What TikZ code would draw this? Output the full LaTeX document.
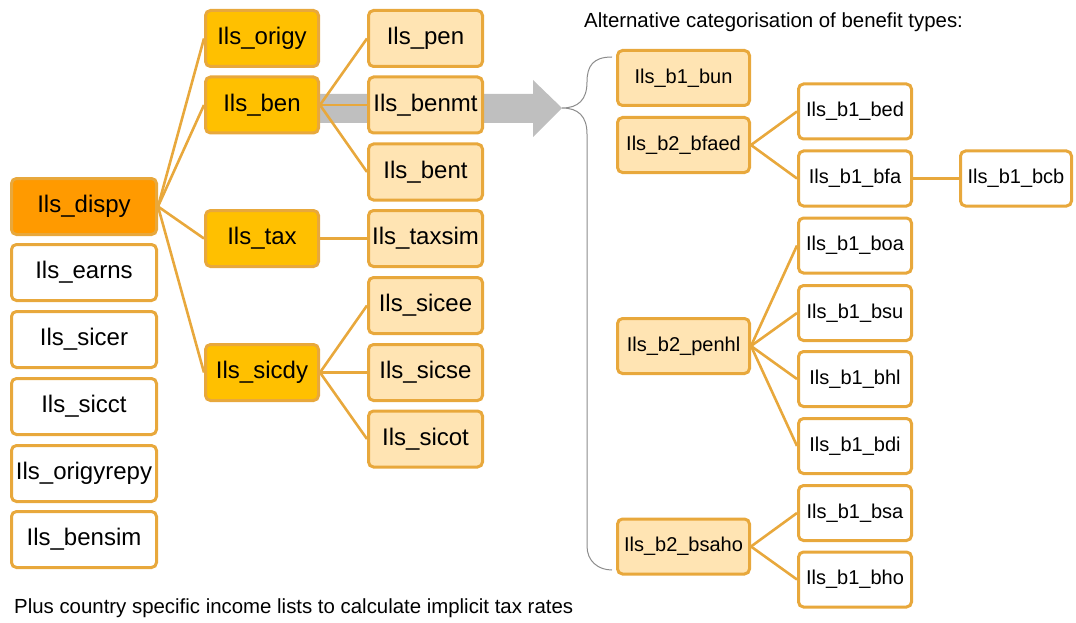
\documentclass[tikz,border=0pt]{standalone}
\usepackage{fontspec}
\setmainfont{Liberation Sans}
\definecolor{bord}{HTML}{E8A83C}
\definecolor{darkor}{HTML}{FF9A00}
\definecolor{gold}{HTML}{FFC000}
\definecolor{light}{HTML}{FFE4B3}
\definecolor{arrgray}{HTML}{BFBFBF}
\definecolor{bracegray}{HTML}{8C8C8C}
\tikzset{
  box/.style={draw=bord, line width=3pt, rounded corners=5pt, inner sep=0pt, align=center},
  lbox/.style={box, minimum width=145pt, minimum height=56pt, font=\fontsize{24}{28}\selectfont},
  mbox/.style={box, minimum width=113pt, minimum height=56pt, font=\fontsize{24}{28}\selectfont},
  tbox/.style={box, minimum width=114pt, minimum height=56pt, font=\fontsize{24}{28}\selectfont, fill=light},
  btwo/.style={box, minimum width=132pt, minimum height=55pt, font=\fontsize{20}{24}\selectfont, fill=light},
  bone/.style={box, minimum width=113pt, minimum height=55pt, font=\fontsize{20}{24}\selectfont, fill=white},
  conn/.style={draw=bord, line width=2.6pt},
  note/.style={font=\fontsize{20.4}{24}\selectfont, inner sep=0pt, anchor=west}
}
\begin{document}
\begin{tikzpicture}[x=1pt,y=-1pt]
\useasboundingbox (0,0) rectangle (1076,623);
% big gray arrow
\fill[arrgray] (300,94) -- (533,94) -- (533,80) -- (562,108) -- (533,137) -- (533,123) -- (300,123) -- cycle;
% brace
\draw[bracegray, line width=1pt] (612,57) .. controls (593,57) and (587,66) .. (587,82)
  .. controls (587,100) and (578,108) .. (562,108)
  .. controls (578,108) and (587,116) .. (587,134) -- (587,546)
  .. controls (587,561) and (598,570) .. (612,570);
% left column
\node[lbox, fill=darkor] (dispy) at (84,206.5) {Ils\_dispy};
\node[lbox, fill=white] (earns) at (84,272.5) {Ils\_earns};
\node[lbox, fill=white] (sicer) at (84,339.5) {Ils\_sicer};
\node[lbox, fill=white] (sicct) at (84,406.5) {Ils\_sicct};
\node[lbox, fill=white] (origyrepy) at (84,473.5) {Ils\_origyrepy};
\node[lbox, fill=white] (bensim) at (84,539.5) {Ils\_bensim};
% second column
\node[mbox, fill=gold] (origy) at (262,38.5) {Ils\_origy};
\node[mbox, fill=gold] (ben) at (262,105) {Ils\_ben};
\node[mbox, fill=gold] (tax) at (262,238.5) {Ils\_tax};
\node[mbox, fill=gold] (sicdy) at (262,372.5) {Ils\_sicdy};
% third column
\node[tbox] (pen) at (425.5,38.5) {Ils\_pen};
\node[tbox] (benmt) at (425.5,105) {Ils\_benmt};
\node[tbox] (bent) at (425.5,172) {Ils\_bent};
\node[tbox] (taxsim) at (425.5,238.5) {Ils\_taxsim};
\node[tbox] (sicee) at (425.5,305.5) {Ils\_sicee};
\node[tbox] (sicse) at (425.5,372.5) {Ils\_sicse};
\node[tbox] (sicot) at (425.5,439) {Ils\_sicot};
% right: b2 column
\node[btwo] (bun) at (683.5,78) {Ils\_b1\_bun};
\node[btwo] (bfaed) at (683.5,145) {Ils\_b2\_bfaed};
\node[btwo] (penhl) at (683.5,346) {Ils\_b2\_penhl};
\node[btwo] (bsaho) at (683.5,546.5) {Ils\_b2\_bsaho};
% right: b1 column
\node[bone] (bed) at (855,111.5) {Ils\_b1\_bed};
\node[bone] (bfa) at (855,178.5) {Ils\_b1\_bfa};
\node[bone] (boa) at (855,245.5) {Ils\_b1\_boa};
\node[bone] (bsu) at (855,313) {Ils\_b1\_bsu};
\node[bone] (bhl) at (855,379) {Ils\_b1\_bhl};
\node[bone] (bdi) at (855,446) {Ils\_b1\_bdi};
\node[bone] (bsa) at (855,513) {Ils\_b1\_bsa};
\node[bone] (bho) at (855,579.5) {Ils\_b1\_bho};
\node[bone, minimum width=111pt] (bcb) at (1016,178.5) {Ils\_b1\_bcb};
% connectors
\foreach \c in {origy,ben,tax,sicdy} \draw[conn] (dispy.east) -- (\c.west);
\foreach \c in {pen,benmt,bent} \draw[conn] (ben.east) -- (\c.west);
\draw[conn] (tax.east) -- (taxsim.west);
\foreach \c in {sicee,sicse,sicot} \draw[conn] (sicdy.east) -- (\c.west);
\foreach \c in {bed,bfa} \draw[conn] (bfaed.east) -- (\c.west);
\draw[conn] (bfa.east) -- (bcb.west);
\foreach \c in {boa,bsu,bhl,bdi} \draw[conn] (penhl.east) -- (\c.west);
\foreach \c in {bsa,bho} \draw[conn] (bsaho.east) -- (\c.west);
% texts
\node[note] (title) at (584,22) {Alternative categorisation of benefit types:};
\node[note] (plus) at (14,608) {Plus country specific income lists to calculate implicit tax rates};
\end{tikzpicture}
\end{document}
